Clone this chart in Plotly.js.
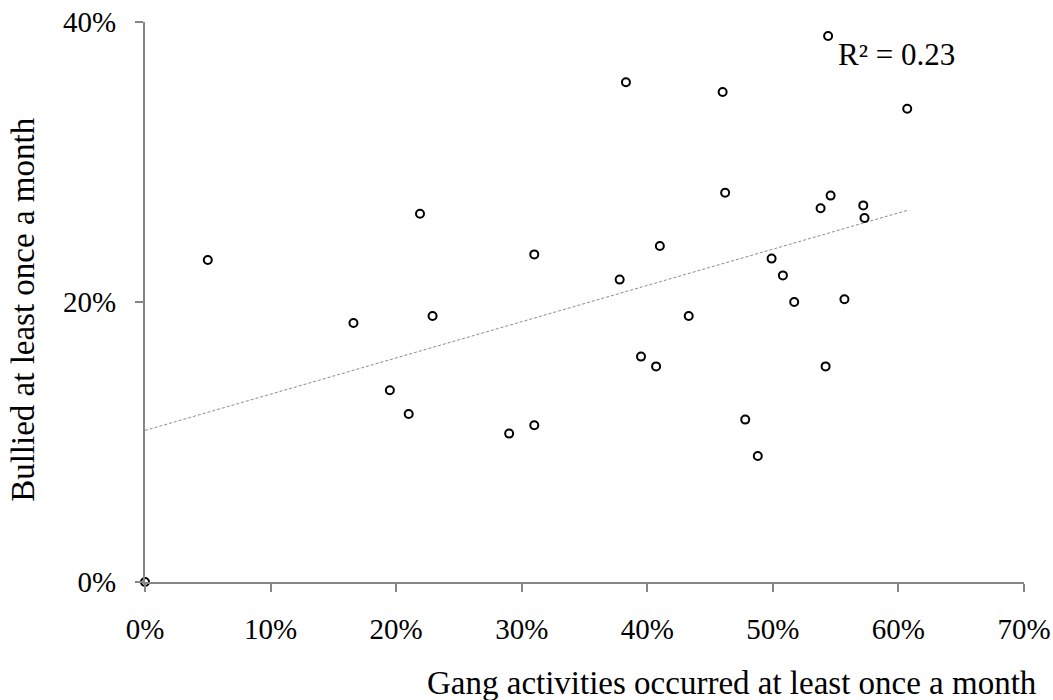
<!DOCTYPE html>
<html>
<head>
<meta charset="utf-8">
<script src="https://cdn.plot.ly/plotly-3.0.1.min.js"></script>
<style>html,body{margin:0;padding:0;background:#fff;}#chart{width:1053px;height:700px;}</style>
</head>
<body>
<div id="chart"></div>
<script>
// Share of schools: gang activities at least monthly (x) vs bullied at least monthly (y)
const gangActivity = [0.000, 0.050, 0.166, 0.195, 0.210, 0.219, 0.229, 0.290, 0.310, 0.310,
  0.378, 0.383, 0.395, 0.407, 0.410, 0.433, 0.460, 0.462, 0.478, 0.488,
  0.499, 0.508, 0.517, 0.538, 0.542, 0.544, 0.546, 0.557, 0.572, 0.573, 0.607];
const bullied = [0.000, 0.230, 0.185, 0.137, 0.120, 0.263, 0.190, 0.106, 0.112, 0.234,
  0.216, 0.357, 0.161, 0.154, 0.240, 0.190, 0.350, 0.278, 0.116, 0.090,
  0.231, 0.219, 0.200, 0.267, 0.154, 0.390, 0.276, 0.202, 0.269, 0.260, 0.338];
const xTickVals = [0, 0.1, 0.2, 0.3, 0.4, 0.5, 0.6, 0.7];
const yTickVals = [0, 0.2, 0.4];
const xTitle = 'Gang activities occurred at least once a month';
const yTitle = 'Bullied at least once a month';
const r2Label = 'R² = 0.23';

// least-squares linear trendline
const n = gangActivity.length;
const mx = gangActivity.reduce((a, b) => a + b, 0) / n;
const my = bullied.reduce((a, b) => a + b, 0) / n;
let sxy = 0, sxx = 0;
for (let i = 0; i < n; i++) { sxy += (gangActivity[i] - mx) * (bullied[i] - my); sxx += (gangActivity[i] - mx) ** 2; }
const slope = sxy / sxx, intercept = my - slope * mx;
const xMin = 0, xMax = Math.max(...gangActivity);
const trendX = [xMin, xMax];
const trendY = trendX.map(v => intercept + slope * v);

const font = 'Liberation Serif, Times New Roman, serif';
const traces = [
  { x: trendX, y: trendY, type: 'scatter', mode: 'lines', hoverinfo: 'skip',
    line: { color: '#8c8c8c', width: 1, dash: '3px,2px' }, showlegend: false },
  { x: gangActivity, y: bullied, type: 'scatter', mode: 'markers', cliponaxis: false,
    marker: { symbol: 'circle-open', size: 8, color: '#000', line: { width: 2, color: '#000' } },
    showlegend: false }
];
const axisCommon = { showgrid: false, zeroline: false, showline: true, linecolor: '#868686', linewidth: 2,
  ticks: 'outside', ticklen: 8, tickcolor: '#868686', tickwidth: 2, tickformat: '.0%',
  tickfont: { family: font, size: 29, color: '#000' } };
const layout = {
  width: 1053, height: 700,
  margin: { l: 145, r: 29, t: 22, b: 118 },
  paper_bgcolor: '#fff', plot_bgcolor: '#fff',
  xaxis: Object.assign({}, axisCommon, { range: [0, 0.7], tickvals: xTickVals, ticklabelstandoff: 12 }),
  yaxis: Object.assign({}, axisCommon, { range: [0, 0.4], tickvals: yTickVals, ticklabelstandoff: 13 }),
  annotations: [
    { xref: 'x', yref: 'y', x: 0.5505, y: 0.377, xanchor: 'left', yanchor: 'middle',
      text: r2Label, showarrow: false, font: { family: font, size: 31, color: '#000' } },
    { xref: 'paper', yref: 'paper', x: 0.668, y: -0.181, xanchor: 'center', yanchor: 'middle',
      text: xTitle, showarrow: false, font: { family: font, size: 33, color: '#000' } },
    { xref: 'paper', yref: 'paper', x: -0.1388, y: 0.486, xanchor: 'center', yanchor: 'middle',
      textangle: -90, text: yTitle, showarrow: false, font: { family: font, size: 33, color: '#000' } }
  ]
};
Plotly.newPlot('chart', traces, layout, { displayModeBar: false, staticPlot: true });
</script>
</body>
</html>
